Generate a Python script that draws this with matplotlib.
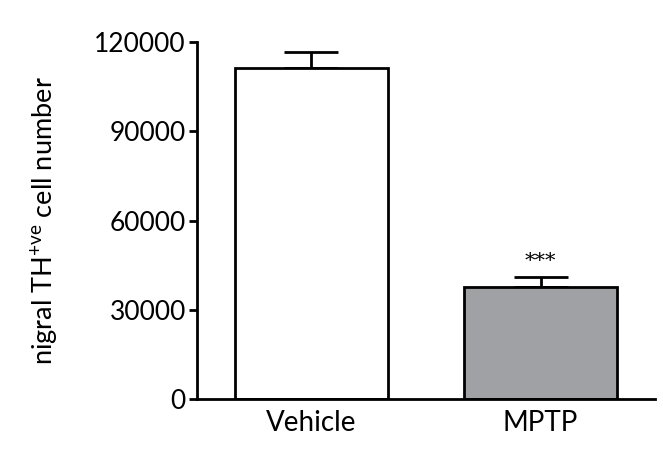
import matplotlib
matplotlib.use("Agg")
import matplotlib.pyplot as plt
import numpy as np

plt.rcParams['font.family'] = ['Lato', 'DejaVu Sans']

groups = ["Vehicle", "MPTP"]
means = [111300, 37600]
sem = [5400, 3400]
colors = ["white", "#a0a1a5"]
yticks = [0, 30000, 60000, 90000, 120000]

fig = plt.figure(figsize=(6.63, 4.57), dpi=100)
ax = fig.add_axes([0.297, 0.127, 0.691, 0.781])

x = np.arange(len(groups))
ax.bar(x, means, width=0.67, color=colors, edgecolor="black", linewidth=2, zorder=2)
ax.errorbar(x, means, yerr=[[0, 0], sem], fmt="none", ecolor="black",
            elinewidth=2, capsize=19.5, capthick=2, zorder=1)

# significance stars over MPTP
ax.text(x[1], means[1] + sem[1] + 2000, "***", ha="center", va="bottom",
        fontsize=15, family="DejaVu Serif")

ax.set_xlim(-0.5, 1.5)
ax.set_ylim(0, 120000)
ax.set_yticks(yticks)
ax.set_yticklabels([str(v) for v in yticks])
ax.set_xticks(x)
ax.set_xticklabels(groups)
ax.tick_params(axis="y", labelsize=19, width=2, length=6, direction="out", pad=2)
ax.tick_params(axis="x", labelsize=20, length=0, pad=8)
ax.set_ylabel("nigral TH$^{\\mathregular{+ve}}$ cell number", fontsize=19.5, labelpad=24)

for s in ["top", "right"]:
    ax.spines[s].set_visible(False)
for s in ["left", "bottom"]:
    ax.spines[s].set_linewidth(2)

fig.savefig("out.png", dpi=100)
